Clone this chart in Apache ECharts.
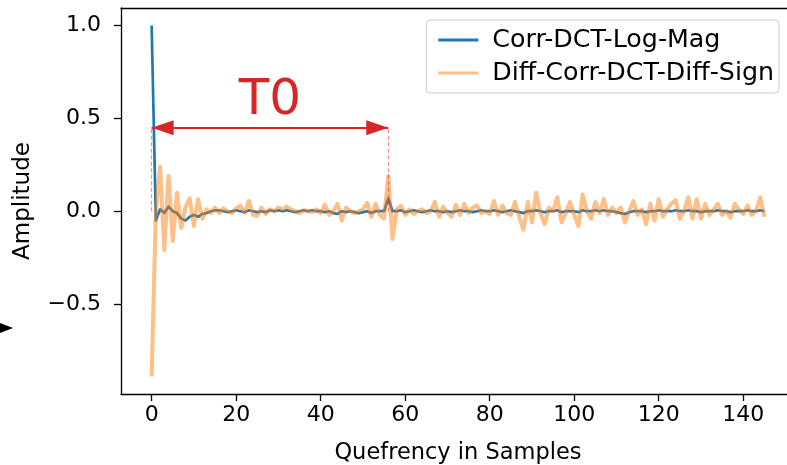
<!DOCTYPE html>
<html>
<head>
<meta charset="utf-8">
<script src="https://cdn.jsdelivr.net/npm/echarts@6/dist/echarts.min.js"></script>
<style>
  html, body { margin: 0; padding: 0; background: #fff; overflow: hidden; }
  #chart { width: 787px; height: 465px; }
</style>
</head>
<body>
<div id="chart"></div>
<script>
// Cepstral-domain comparison of two periodicity measures
const seriesNames = ['Corr-DCT-Log-Mag', 'Diff-Corr-DCT-Diff-Sign'];

const corrDctLogMag = [
  1.0, -0.05, 0.01, -0.01, 0.025, 0.0, -0.01, -0.04, -0.05, -0.03,
  -0.02, -0.03, -0.015, -0.01, 0.0, 0.005, 0.005, 0.0, -0.005, 0.0,
  0.005, 0.0, -0.005, 0.005, 0.0, -0.005, 0.0, -0.005, 0.005, 0.0,
  0.005, 0.0, 0.005, 0.0, -0.005, 0.0, 0.005, 0.0, 0.005, 0.0,
  0.0, -0.005, 0.0, -0.01, -0.015, 0.0, -0.005, 0.0, -0.005, -0.01,
  -0.005, 0.0, -0.01, 0.0, 0.0, 0.0, 0.07, 0.0, 0.0, 0.005,
  -0.005, 0.0, 0.005, 0.0, -0.005, 0.0, 0.005, 0.0, 0.0, -0.005,
  0.0, -0.005, 0.0, 0.005, 0.0, 0.0, -0.005, 0.0, 0.005, 0.0,
  0.0, 0.005, 0.0, -0.005, 0.0, 0.005, 0.0, -0.005, -0.01, 0.0,
  0.0, 0.005, 0.0, -0.005, 0.0, 0.0, 0.005, -0.005, 0.0, 0.0,
  0.0, -0.005, 0.005, 0.0, 0.0, 0.005, 0.0, 0.005, 0.0, 0.0,
  -0.005, -0.01, -0.015, -0.005, 0.0, 0.0, 0.0, -0.005, 0.0, 0.0,
  0.005, 0.0, 0.0, 0.0, 0.005, 0.0, 0.0, 0.005, 0.0, 0.0,
  -0.005, 0.0, 0.0, 0.0, 0.005, 0.0, 0.0, -0.005, 0.0, 0.0,
  0.0, 0.005, 0.0, 0.0, 0.005, 0.0
];

const diffCorrDctDiffSign = [
  -0.89, 0.0, 0.24, -0.21, 0.19, -0.16, 0.10, -0.09, 0.02, 0.07,
  -0.08, 0.065, -0.04, 0.01, -0.01, 0.02, -0.01, 0.015, 0.0, -0.01,
  0.015, 0.03, -0.01, 0.055, -0.02, -0.025, 0.02, -0.015, 0.01, 0.0,
  0.02, 0.01, 0.025, 0.01, 0.0, -0.01, 0.005, 0.0, -0.005, 0.01,
  -0.01, 0.035, -0.02, 0.0, 0.04, -0.05, 0.02, 0.0, -0.01, 0.0,
  0.01, 0.045, -0.03, 0.04, -0.02, -0.04, 0.19, -0.15, 0.01, 0.03,
  -0.02, 0.01, -0.015, 0.0, 0.01, -0.01, 0.0, 0.05, -0.03, 0.025,
  -0.01, -0.03, 0.035, -0.02, 0.04, -0.01, 0.02, 0.03, -0.01, 0.0,
  -0.015, 0.055, -0.02, 0.03, -0.01, -0.02, 0.05, -0.03, -0.10, 0.05,
  -0.06, 0.10, -0.01, -0.07, 0.02, 0.0, 0.075, -0.06, -0.01, 0.05,
  -0.02, -0.08, 0.09, 0.0, -0.04, 0.05, -0.01, 0.065, -0.02, 0.02,
  -0.01, 0.02, -0.06, 0.0, 0.055, -0.02, 0.01, -0.07, 0.04, -0.05,
  0.065, -0.03, 0.01, 0.04, 0.06, -0.04, 0.0, 0.075, -0.04, 0.065,
  -0.04, 0.04, -0.02, 0.01, 0.04, -0.02, 0.0, -0.035, 0.04, 0.01,
  -0.015, 0.03, -0.02, 0.0, 0.075, -0.03
];

// Pitch period marker (in samples) and the height of its arrow
const pitchPeriod = 56;
const arrowLevel = 0.45;

const xTicks = [0, 20, 40, 60, 80, 100, 120, 140];
const yTicks = [-0.5, 0.0, 0.5, 1.0];

const FONT = 'DejaVu Sans';
const RED = '#d62728';
const BLUE = '#1f77b4';
const ORANGE = '#ff7f0e';
const X_MIN = -7.25, X_MAX = 152.25;

const toPairs = arr => arr.map((v, i) => [i, v]);

const chart = echarts.init(document.getElementById('chart'), null, { renderer: 'canvas' });

chart.setOption({
  animation: false,
  backgroundColor: '#ffffff',
  grid: {
    left: 121, top: 8, right: -8, bottom: 71,
    outerBoundsMode: 'none',
    containLabel: false,
    show: false
  },
  xAxis: [
    {
      type: 'value',
      min: X_MIN, max: X_MAX,
      name: 'Quefrency in Samples',
      nameLocation: 'middle',
      nameGap: 48,
      nameTextStyle: { fontFamily: FONT, fontSize: 22.5, color: '#000' },
      axisLine: { show: true, onZero: false, lineStyle: { color: '#000', width: 1.3 } },
      axisTick: { show: true, inside: false, length: 7, customValues: xTicks, lineStyle: { color: '#000', width: 1.3 } },
      axisLabel: { customValues: xTicks, margin: 10, fontFamily: FONT, fontSize: 22, color: '#000' },
      splitLine: { show: false }
    },
    {
      // top frame edge
      type: 'value',
      position: 'top',
      min: X_MIN, max: X_MAX,
      axisLine: { show: true, onZero: false, lineStyle: { color: '#000', width: 1.3 } },
      axisTick: { show: false },
      axisLabel: { show: false },
      splitLine: { show: false }
    }
  ],
  yAxis: {
    type: 'value',
    min: -0.9845, max: 1.0945,
    name: 'Amplitude',
    nameLocation: 'middle',
    nameGap: 86,
    nameRotate: 90,
    nameTextStyle: { fontFamily: FONT, fontSize: 23, color: '#000' },
    axisLine: { show: true, onZero: false, lineStyle: { color: '#000', width: 1.3 } },
    axisTick: { show: true, inside: false, length: 7, customValues: yTicks, lineStyle: { color: '#000', width: 1.3 } },
    axisLabel: {
      customValues: yTicks, margin: 20, fontFamily: FONT, fontSize: 22, color: '#000',
      formatter: v => (v < 0 ? '\u2212' : '') + Math.abs(v).toFixed(1)
    },
    splitLine: { show: false }
  },
  legend: {
    orient: 'vertical',
    right: 8, top: 20,
    itemWidth: 40, itemHeight: 3, itemGap: 3,
    padding: [5, 5, 5, 12],
    backgroundColor: 'rgba(255,255,255,0.8)',
    borderColor: '#cccccc', borderWidth: 1, borderRadius: 4,
    textStyle: { fontFamily: FONT, fontSize: 25.3, lineHeight: 30, color: '#000', padding: [0, 0, 0, 9] },
    data: [
      { name: seriesNames[0], icon: 'rect', itemStyle: { color: BLUE } },
      { name: seriesNames[1], icon: 'rect', itemStyle: { color: 'rgba(255,127,14,0.5)' } }
    ]
  },
  series: [
    {
      name: seriesNames[0],
      type: 'line',
      data: toPairs(corrDctLogMag),
      symbol: 'none',
      color: BLUE,
      lineStyle: { color: BLUE, width: 2.7, join: 'round' },
      z: 2
    },
    {
      name: seriesNames[1],
      type: 'line',
      data: toPairs(diffCorrDctDiffSign),
      symbol: 'none',
      color: ORANGE,
      lineStyle: { color: ORANGE, width: 4, opacity: 0.5, join: 'round' },
      z: 3
    },
    {
      // T0 annotation: double arrow plus dashed guides down to zero
      name: 'annotation',
      type: 'line',
      xAxisIndex: 0,
      data: [],
      z: 4,
      silent: true,
      markLine: {
        silent: true,
        animation: false,
        data: [
          [
            {
              coord: [0, arrowLevel],
              symbol: 'triangle', symbolSize: [15, 22], symbolOffset: [0, 11],
              lineStyle: { color: RED, width: 2, type: 'solid', opacity: 1 },
              label: {
                show: true, position: 'middle', formatter: 'T0',
                fontFamily: FONT, fontSize: 50, color: RED, distance: 2
              }
            },
            { coord: [pitchPeriod, arrowLevel], symbol: 'triangle', symbolSize: [15, 22], symbolOffset: [0, 11] }
          ],
          [
            {
              coord: [0, 0], symbol: 'none',
              lineStyle: { color: RED, width: 1.2, type: [4, 2.5], opacity: 0.5 },
              label: { show: false }
            },
            { coord: [0, arrowLevel], symbol: 'none' }
          ],
          [
            {
              coord: [pitchPeriod, 0], symbol: 'none',
              lineStyle: { color: RED, width: 1.2, type: [4, 2.5], opacity: 0.5 },
              label: { show: false }
            },
            { coord: [pitchPeriod, arrowLevel], symbol: 'none' }
          ]
        ]
      }
    }
  ],
  graphic: [
    {
      type: 'polygon',
      shape: { points: [[0, 323], [13, 328], [0, 333]] },
      style: { fill: '#000' }
    }
  ]
});
</script>
</body>
</html>
